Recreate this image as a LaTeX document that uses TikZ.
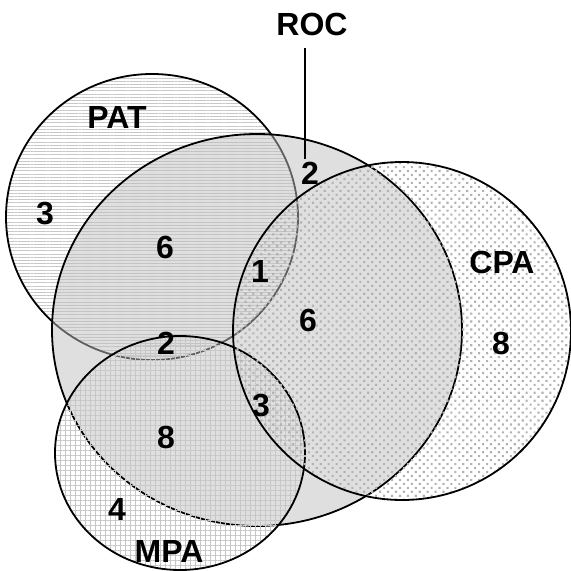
\documentclass[tikz,border=0pt]{standalone}
\usepackage{fontspec}
\setmainfont{Liberation Sans}
\usetikzlibrary{patterns.meta}

\begin{document}
\begin{tikzpicture}[x=0.5pt,y=-0.5pt,
	lbl/.style={font=\fontsize{16}{18}\selectfont\bfseries, inner sep=0pt},
	rim/.style={draw=black, line width=0.9pt}]
	\useasboundingbox (0,0) rectangle (571,571);
	
	% PAT
	\fill[pattern={Lines[angle=0,distance=1.6pt,line width=0.5pt]}, pattern color=black!22] (152,217) ellipse [x radius=146, y radius=143];
	\draw[rim] (152,217) ellipse [x radius=146, y radius=143];
	
	% ROC
	\fill[black!25, fill opacity=0.5] (257,330) ellipse [x radius=205, y radius=196];
	\draw[rim] (257,330) ellipse [x radius=205, y radius=196];
	
	% MPA
	\fill[pattern={Hatch[angle=0,distance=2.5pt,line width=0.5pt]}, pattern color=black!22] (180,453) ellipse [x radius=125, y radius=117];
	\draw[rim] (180,453) ellipse [x radius=125, y radius=117];
	
	% CPA
	\fill[pattern={Dots[angle=45,distance=2.8pt,radius=0.75pt]}, pattern color=black!30] (402,331) ellipse [x radius=169, y radius=169];
	\draw[rim] (402,331) ellipse [x radius=169, y radius=169];
	
	\node[lbl] (roc) at (312,24) {ROC};
	\node[lbl] (pat) at (117,117) {PAT};
	\node[lbl] (cpa) at (502,262) {CPA};
	\node[lbl] (mpa) at (169,551) {MPA};
	
	\node[lbl] (patonly) at (45,214) {3};
	\node[lbl] (patroc) at (165,247) {6};
	\node[lbl] (patroccpa) at (260,271) {1};
	\node[lbl] (roconly) at (310,173) {2};
	\node[lbl] (roccpa) at (308,320) {6};
	\node[lbl] (cpaonly) at (501,343) {8};
	\node[lbl] (patrocmpa) at (166,343) {2};
	\node[lbl] (rocmpa) at (166,437) {8};
	\node[lbl] (rocmpacpa) at (261,406) {3};
	\node[lbl] (mpaonly) at (117,509) {4};
	
	\coordinate (rocend) at (305,159);
	\draw[line width=0.75pt] ([yshift=-6pt]roc.south -| rocend) -- (rocend);
\end{tikzpicture}
\end{document}
